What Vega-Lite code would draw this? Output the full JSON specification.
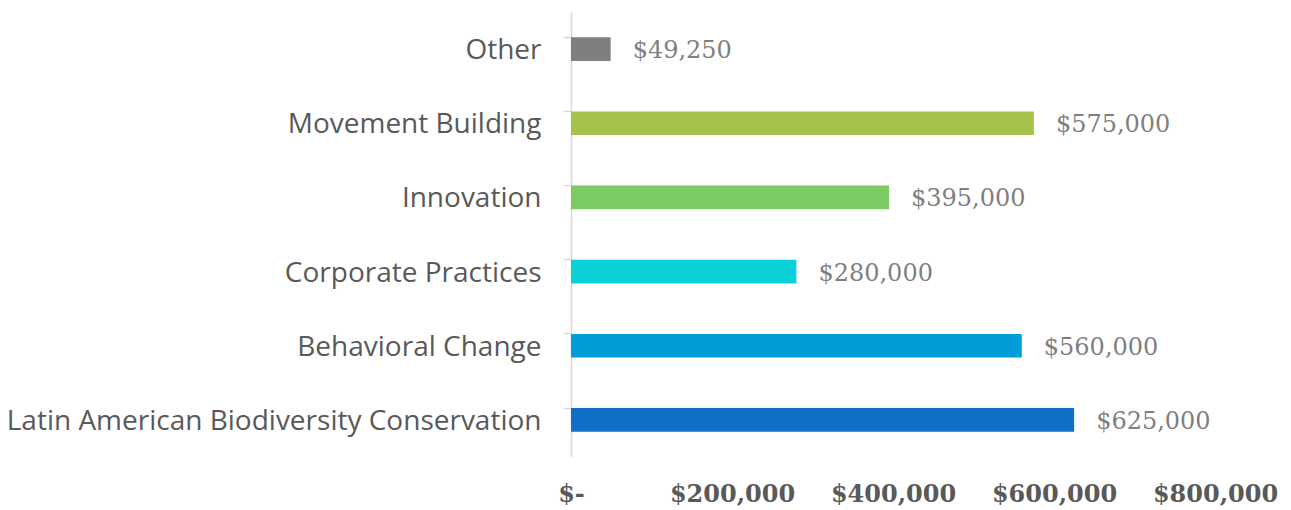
{
  "$schema": "https://vega.github.io/schema/vega-lite/v6.json",
  "width": 644,
  "height": 445,
  "autosize": {"type": "none"},
  "padding": {"left": 571, "top": 12, "right": 76, "bottom": 53},
  "background": "white",
  "config": {"view": {"stroke": null}},
  "data": {"values": [
    {"category": "Other", "amount": 49250, "color": "#7F7F7F"},
    {"category": "Movement Building", "amount": 575000, "color": "#A5C249"},
    {"category": "Innovation", "amount": 395000, "color": "#7CCA62"},
    {"category": "Corporate Practices", "amount": 280000, "color": "#0BD0D9"},
    {"category": "Behavioral Change", "amount": 560000, "color": "#009DD9"},
    {"category": "Latin American Biodiversity Conservation", "amount": 625000, "color": "#0F6FC6"}
  ]},
  "encoding": {
    "y": {
      "field": "category", "type": "nominal", "sort": null,
      "scale": {"paddingInner": 0.68, "paddingOuter": 0.34},
      "axis": {
        "title": null, "bandPosition": 0, "domainColor": "#D9D9D9", "domainWidth": 1.5,
        "tickColor": "#D9D9D9", "tickSize": 8, "tickWidth": 1.5,
        "labelFont": "Open Sans", "labelFontSize": 28, "labelColor": "#595959",
        "labelPadding": 22, "labelLimit": 700, "labelOverlap": false, "labelOffset": 2
      }
    },
    "x": {
      "field": "amount", "type": "quantitative",
      "scale": {"domain": [0, 800000], "nice": false},
      "axis": {
        "title": null, "domain": false, "ticks": false, "grid": false,
        "values": [0, 200000, 400000, 600000, 800000],
        "labelOverlap": false, "labelFlush": false,
        "labelExpr": "datum.value == 0 ? '$-' : '$' + format(datum.value, ',')",
        "labelFont": "DejaVu Serif", "labelFontWeight": "bold", "labelFontSize": 24,
        "labelColor": "#595959", "labelPadding": 25
      }
    }
  },
  "layer": [
    {"mark": {"type": "bar"}, "encoding": {"color": {"field": "color", "type": "nominal", "scale": null}}},
    {"mark": {"type": "text", "align": "left", "dx": 22, "dy": 2, "font": "DejaVu Serif", "fontSize": 24, "color": "#7F7F7F"},
     "encoding": {"text": {"field": "amount", "type": "quantitative", "format": "$,"}}}
  ]
}
